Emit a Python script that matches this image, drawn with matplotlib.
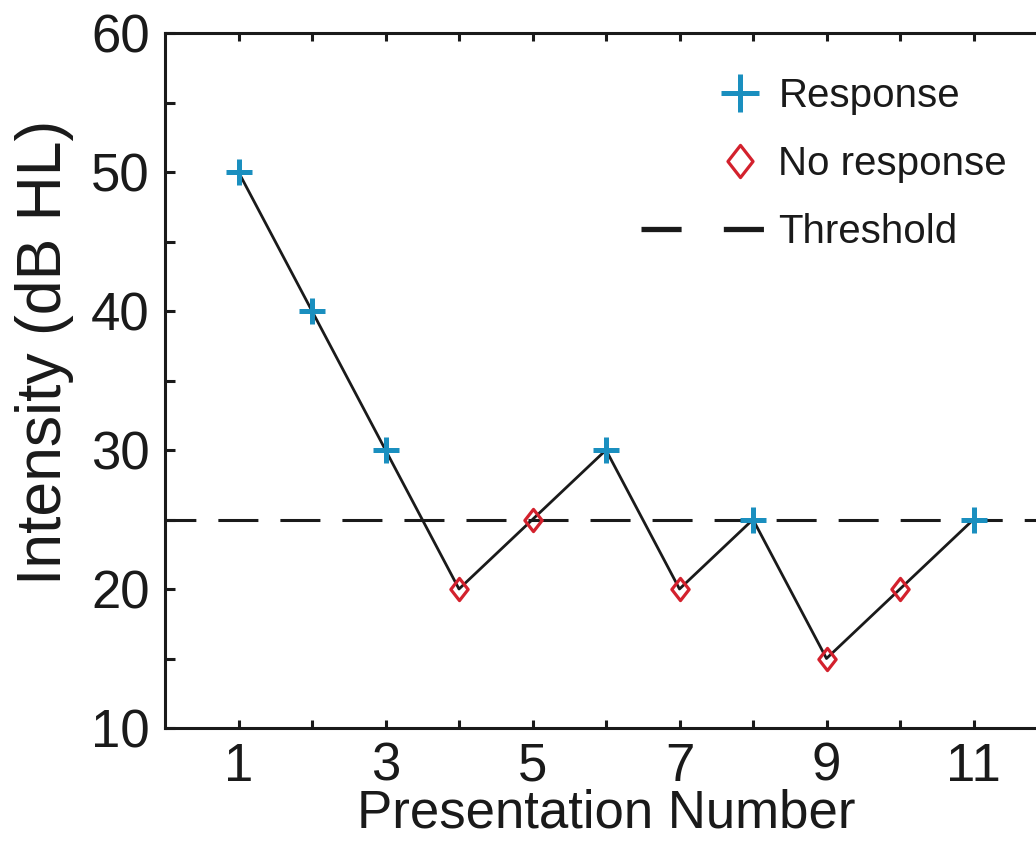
import numpy as np
import matplotlib.pyplot as plt
from matplotlib.lines import Line2D
from matplotlib.path import Path
from matplotlib.legend_handler import HandlerLine2D

plt.rcParams['font.family'] = ['Liberation Sans', 'DejaVu Sans']

# Data
presentation = [1, 2, 3, 4, 5, 6, 7, 8, 9, 10, 11]
intensity = [50, 40, 30, 20, 25, 30, 20, 25, 15, 20, 25]
responded = [True, True, True, False, False, True, False, True, False, False, True]
threshold = 25

x = np.array(presentation)
y = np.array(intensity)
r = np.array(responded)

blue = '#1a8fbf'
red = '#d3212d'
ink = '#1a1a1a'

# slightly wide diamond, like the original
diamond = Path([(0, 1), (0.78, 0), (0, -1), (-0.78, 0), (0, 1)],
               [Path.MOVETO, Path.LINETO, Path.LINETO, Path.LINETO, Path.CLOSEPOLY])


class RightMarker(HandlerLine2D):
    # put the single legend marker near the right end of the handle box
    def create_artists(self, *args, **kwargs):
        arts = super().create_artists(*args, **kwargs)
        for a in arts:
            xd = np.asarray(a.get_xdata(), dtype=float)
            if len(xd) == 3:
                xd[1] = xd[0] + 0.8 * (xd[2] - xd[0])
                a.set_xdata(xd)
        return arts


fig = plt.figure(figsize=(10.36, 8.41), dpi=100)
ax = fig.add_axes([165 / 1036, 1 - 728 / 841, 882 / 1036, 695 / 841])

ax.axhline(threshold, color=ink, lw=2.2, linestyle=(3, (13.1, 7.2)), zorder=1)
ax.plot(x, y, color=ink, lw=2.0, zorder=2)
ax.plot(x[r], y[r], linestyle='none', marker='+', ms=19, mew=3.6, color=blue, zorder=3)
ax.plot(x[~r], y[~r], linestyle='none', marker=diamond, ms=16, mew=2.3,
        mfc='none', mec=red, zorder=3)

ax.set_xlim(0, 12)
ax.set_ylim(10, 60)
ax.set_xticks(range(1, 12))
ax.set_xticklabels([str(i) if i % 2 == 1 else '' for i in range(1, 12)])
ax.set_yticks(range(10, 61, 10))
ax.set_yticks(range(15, 60, 10), minor=True)

for side in ['left', 'bottom', 'top']:
    ax.spines[side].set_linewidth(2.2)
    ax.spines[side].set_color(ink)
ax.spines['right'].set_visible(False)

ax.tick_params(axis='x', which='both', direction='in', top=True, length=6,
               width=2.2, labelsize=38, pad=10, color=ink, labelcolor=ink)
ax.tick_params(axis='y', which='both', direction='in', right=False, length=7,
               width=2.2, labelsize=38, pad=11, color=ink, labelcolor=ink)

ax.set_xlabel('Presentation Number', fontsize=38, color=ink)
ax.set_ylabel('Intensity (dB HL)', fontsize=45, color=ink)
ax.xaxis.set_label_coords(0.5, -0.087)
ax.yaxis.set_label_coords(-0.103, 0.541)

resp_h = Line2D([], [], linestyle='none', marker='+', ms=19, mew=3.6, color=blue)
nores_h = Line2D([], [], linestyle='none', marker=diamond, ms=16, mew=2.3,
                 mfc='none', mec=red)
thr_h = Line2D([], [], color=ink, lw=3.8, linestyle=(0, (7.6, 8.0)))
ax.legend([resp_h, nores_h, thr_h], ['Response', 'No response', 'Threshold'],
          handler_map={resp_h: RightMarker(), nores_h: RightMarker()},
          frameon=False, fontsize=29, markerscale=1.45, handlelength=3.08,
          handletextpad=0.33, labelspacing=0.75, loc='upper left',
          bbox_to_anchor=(0.5215, 0.96), borderaxespad=0, labelcolor=ink)

fig.savefig('out.png', dpi=100)
